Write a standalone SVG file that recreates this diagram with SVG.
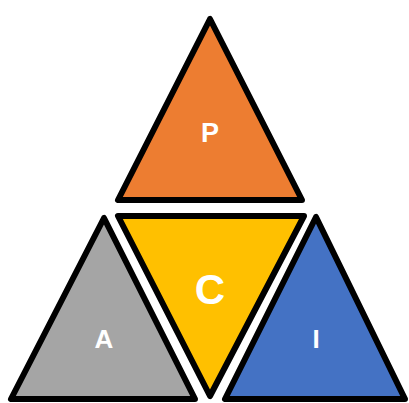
<svg xmlns="http://www.w3.org/2000/svg" width="409" height="403" viewBox="0 0 409 403">
<style>
.tri{stroke:#000;stroke-width:6;stroke-linejoin:round}
.lbl{font-family:"Liberation Sans",Arial,sans-serif;font-weight:bold;fill:#fff;text-anchor:middle}
</style>
<rect width="409" height="403" fill="#fff"/>
<g id="P"><polygon class="tri" fill="#ED7D31" points="210,19 118,200 302,200"/><text class="lbl" x="210" y="142" font-size="27">P</text></g>
<g id="A"><polygon class="tri" fill="#A5A5A5" points="104,218 11,399 195,399"/><text class="lbl" x="104" y="348" font-size="26">A</text></g>
<g id="C"><polygon class="tri" fill="#FFC000" points="118,216 304,216 210,396"/><text class="lbl" x="210" y="304" font-size="42">C</text></g>
<g id="I"><polygon class="tri" fill="#4472C4" points="316,217 225,399 405,399"/><text class="lbl" x="316" y="348" font-size="26">I</text></g>
<g id="connectors"/>
</svg>
